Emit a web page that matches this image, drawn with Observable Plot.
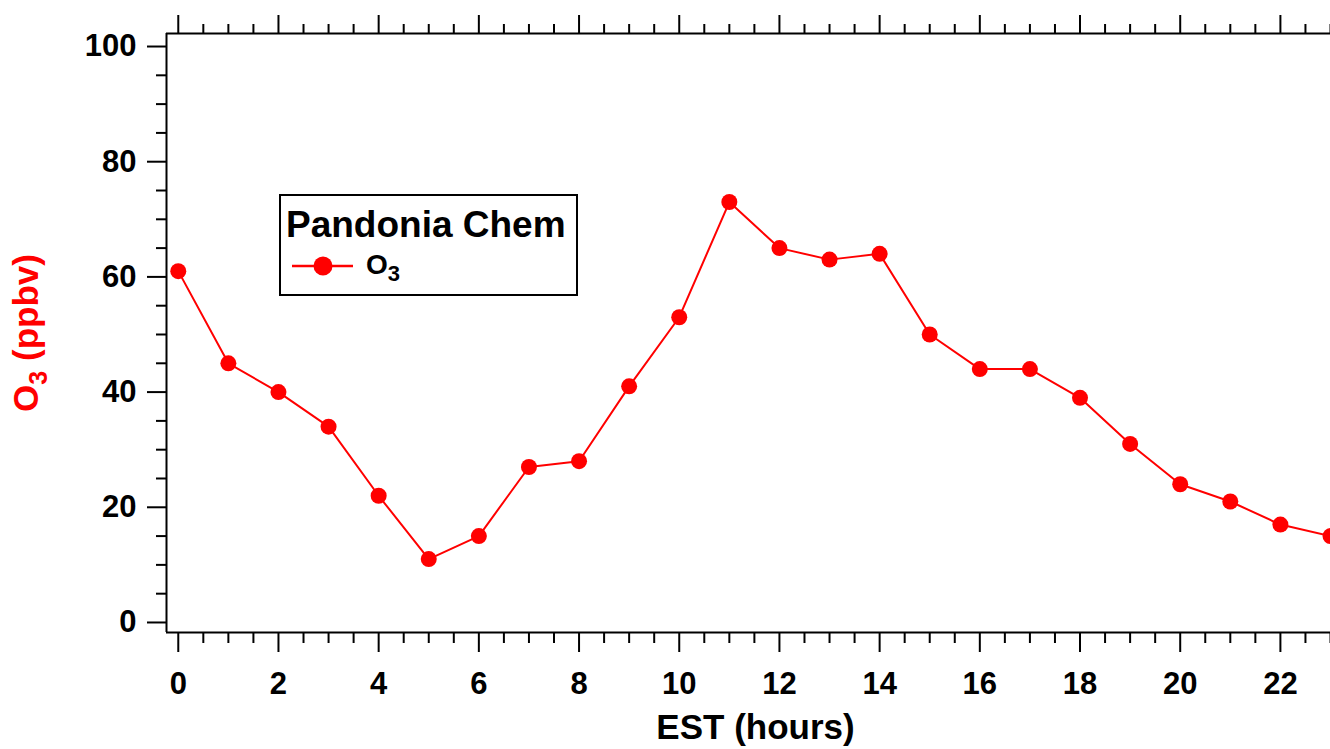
<!DOCTYPE html>
<html><head><meta charset="utf-8">
<script src="https://cdn.jsdelivr.net/npm/d3@7"></script>
<script src="https://cdn.jsdelivr.net/npm/@observablehq/plot@0.6"></script>
<style>html,body{margin:0;padding:0;background:#fff;overflow:hidden}</style>
</head><body><div id="chart"></div>
<script>
// ---- data ----
const hours = [0,1,2,3,4,5,6,7,8,9,10,11,12,13,14,15,16,17,18,19,20,21,22,23];
const o3 = [61,45,40,34,22,11,15,27,28,41,53,73,65,63,64,50,44,44,39,31,24,21,17,15];
const xMajorTicks = [0,2,4,6,8,10,12,14,16,18,20,22];
const yMajorTicks = [0,20,40,60,80,100];
const xTitle = "EST (hours)";
const yTitle = "O₃ (ppbv)";
const legendTitle = "Pandonia Chem";
const seriesName = "O₃";

const xDomain = [-0.235, 23.0];
const yDomain = [-1.74, 102.26];
const xMinorTicks = d3.range(0, 23.01, 0.5).filter(v => v % 2 !== 0);
const yMinorTicks = d3.range(0, 100.01, 5).filter(v => v % 20 !== 0);

const rows = hours.map((h, i) => ({hour: h, o3: o3[i]}));
const RED = "#ff0000";
const FONT = "'Liberation Sans', Arial, sans-serif";

const chart = Plot.plot({
  width: 1330, height: 749,
  marginLeft: 166, marginRight: 0, marginTop: 33, marginBottom: 117,
  style: {fontFamily: FONT, fontWeight: "bold", fontSize: "31px", background: "#fff", color: "#000", overflow: "visible"},
  x: {domain: xDomain},
  y: {domain: yDomain},
  marks: [
    Plot.ruleX([xDomain[0]], {stroke: "#000", strokeWidth: 2}),
    Plot.ruleY([yDomain[0]], {stroke: "#000", strokeWidth: 2}),
    Plot.ruleY([yDomain[1]], {stroke: "#000", strokeWidth: 2}),
    Plot.axisX({anchor: "bottom", ticks: xMajorTicks, tickSize: 20, tickPadding: 19, strokeWidth: 2, label: null}),
    Plot.axisX({anchor: "bottom", ticks: xMinorTicks, tickSize: 11, tickFormat: () => "", strokeWidth: 2, label: null}),
    Plot.axisX({anchor: "top", ticks: xMajorTicks, tickSize: 19, tickFormat: () => "", strokeWidth: 2, label: null}),
    Plot.axisX({anchor: "top", ticks: xMinorTicks, tickSize: 10, tickFormat: () => "", strokeWidth: 2, label: null}),
    Plot.axisY({anchor: "left", ticks: yMajorTicks, tickSize: 19, tickPadding: 11, strokeWidth: 2, label: null}),
    Plot.axisY({anchor: "left", ticks: yMinorTicks, tickSize: 10, tickFormat: () => "", strokeWidth: 2, label: null}),
    Plot.line(rows, {x: "hour", y: "o3", stroke: RED, strokeWidth: 2}),
    Plot.dot(rows, {x: "hour", y: "o3", r: 8, fill: RED, stroke: "none"}),
    Plot.text([xTitle], {frameAnchor: "bottom", textAnchor: "middle", dx: 7, dy: 106, lineAnchor: "bottom", fontSize: 35, fontWeight: "bold", fill: "#000"}),
    Plot.text([yTitle], {frameAnchor: "left", textAnchor: "middle", rotate: -90, dx: -129, lineAnchor: "bottom", fontSize: 35, fontWeight: "bold", fill: RED})
  ]
});
document.getElementById("chart").appendChild(chart);

const svg = d3.select(chart);

// subscript handling for "₃"
function subscriptify(el, subSize, shift) {
  const s = el.textContent;
  const i = s.indexOf("₃");
  if (i < 0) return;
  const t = d3.select(el);
  t.text(null);
  t.append("tspan").text(s.slice(0, i));
  t.append("tspan").attr("font-size", subSize).attr("dy", shift).text("3");
  if (i + 1 < s.length) t.append("tspan").attr("dy", -shift).text(s.slice(i + 1));
}
svg.selectAll("text").each(function() { subscriptify(this, 25, 9); });

// legend
const lg = svg.append("g").attr("font-family", FONT).attr("font-weight", "bold").attr("text-anchor", "start");
lg.append("rect").attr("x", 280).attr("y", 195).attr("width", 297).attr("height", 100)
  .attr("fill", "#fff").attr("stroke", "#000").attr("stroke-width", 2);
lg.append("text").attr("x", 286).attr("y", 237).attr("font-size", 37).attr("fill", "#000").text(legendTitle);
lg.append("line").attr("x1", 292).attr("x2", 353).attr("y1", 266).attr("y2", 266)
  .attr("stroke", RED).attr("stroke-width", 2.5);
lg.append("circle").attr("cx", 323).attr("cy", 266).attr("r", 9.5).attr("fill", RED);
const st = lg.append("text").attr("x", 366).attr("y", 274).attr("font-size", 28).attr("fill", "#000").text(seriesName);
subscriptify(st.node(), 22, 7);
</script>
</body></html>
